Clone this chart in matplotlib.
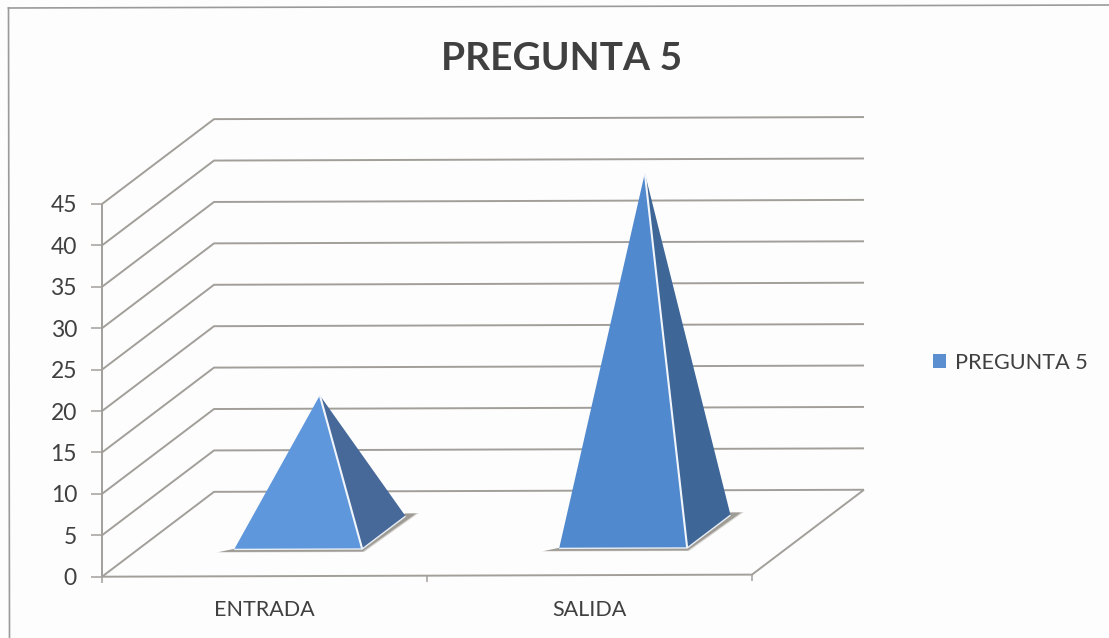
import matplotlib
matplotlib.use("Agg")
import matplotlib.pyplot as plt
from matplotlib.lines import Line2D
from matplotlib.patches import Patch, Polygon

plt.rcParams['font.family'] = ['Lato', 'DejaVu Sans']

title = "PREGUNTA 5"
series_name = "PREGUNTA 5"
categories = ["ENTRADA", "SALIDA"]
values = [16.6, 43.3]
y_ticks = [0, 5, 10, 15, 20, 25, 30, 35, 40, 45]

front_colors = ["#5E97DB", "#5189CE"]
side_colors = ["#47699A", "#3E6697"]
legend_color = "#5B8FD0"
line_color = "#A29F9A"
text_color = "#404040"

W, H = 1109, 638
LEFT, RIGHT, BASE, TOP = 102, 752, 576.7, 204.0
DX = 112 / ((RIGHT - LEFT) / 2)     # depth shift, category units
DY = 84.5 / ((BASE - TOP) / 45)     # depth shift, value units
TILT = 0.0032 * ((RIGHT - LEFT) / 2) / ((BASE - TOP) / 45)  # scan rotation
BAR = 0.394
CENTRE = 0.494
D0, D1 = 0.318, 0.705


def P(cat, val, d=0.0):
    """Oblique projection of (category, value, depth) on the front plane."""
    x = cat + d * DX
    return x, val + d * DY + TILT * x


fig = plt.figure(figsize=(W / 100, H / 100), dpi=100, facecolor="#FDFDFD")
ax = fig.add_axes([LEFT / W, 1 - BASE / H, (RIGHT - LEFT) / W, (BASE - TOP) / H])
ax.set_xlim(0, 2)
ax.set_ylim(0, 45)
ax.patch.set_visible(False)
for s in ax.spines.values():
    s.set_visible(False)


def line(pts, lw=1.4, z=1, col=line_color):
    ax.plot(*zip(*pts), color=col, lw=lw, zorder=z, clip_on=False,
            solid_capstyle="butt")


# walls, floor, gridlines
for v in y_ticks:
    line([P(0, v), P(0, v, 1), P(2, v, 1)])
line([P(0, 0), P(0, 45)])
line([P(0, 0), P(2, 0), P(2, 0, 1)])
for c in (0, 1, 2):
    x, y = P(c, 0)
    line([(x, y), (x, y - 0.75)], lw=1.1)

# pyramids
for i, v in enumerate(values):
    mid = i + CENTRE
    lo, hi = mid - BAR / 2, mid + BAR / 2
    for grow, col, a in ((0.006, "#C4C1BC", 0.7), (0.0, "#9C9993", 0.95)):
        shadow = [P(lo - 0.035 - grow, 0, D0 - 0.03 - grow),
                  P(hi + 0.012 + grow, 0, D0 - 0.03 - grow),
                  P(hi + 0.022 + grow, 0, D1 + 0.03 + grow),
                  P(hi - 0.01, 0, D1 + 0.03 + grow)]
        ax.add_patch(Polygon(shadow, closed=True, fc=col, ec="none", zorder=2,
                             clip_on=False, alpha=a))
    apex = P(mid, v, (D0 + D1) / 2)
    fl, fr, br = P(lo, 0, D0), P(hi, 0, D0), P(hi, 0, D1)
    ax.add_patch(Polygon([fr, br, apex], closed=True, fc=side_colors[i], ec="none",
                         zorder=3, clip_on=False))
    ax.add_patch(Polygon([fl, fr, apex], closed=True, fc=front_colors[i], ec="none",
                         zorder=4, clip_on=False))
    line([fr, apex], lw=1.5, z=5, col="#F2F6FB")
    line([fl, fr, br], lw=1.0, z=5, col="#E8EEF5")

# axes text
ax.set_yticks(y_ticks)
ax.set_yticklabels([str(t) for t in y_ticks])
ax.tick_params(axis="y", length=8, width=1.1, color=line_color, labelcolor=text_color,
               labelsize=16.5, pad=10)
ax.set_xticks([0.5, 1.5])
ax.set_xticklabels(categories)
ax.tick_params(axis="x", length=0, labelcolor=text_color, labelsize=15.5, pad=16.5)

fig.text(562 / W, 1 - 59 / H, title, ha="center", va="center", fontsize=28,
         fontweight="bold", color=text_color)
fig.legend(handles=[Patch(fc=legend_color, ec="none", label=series_name)],
           loc="center left", bbox_to_anchor=(933 / W, 1 - 363 / H), frameon=False,
           fontsize=15.6, labelcolor=text_color, handlelength=0.6, handleheight=0.6,
           handletextpad=0.4, borderpad=0, borderaxespad=0)

# frame of the scanned chart
fig.add_artist(Line2D([8.5 / W, 9.5 / W], [1 - 8 / H, 0], color="#9A9A9A", lw=1.2))
fig.add_artist(Line2D([8.5 / W, 1], [1 - 8 / H, 1 - 5 / H], color="#9A9A9A", lw=1.2))

fig.savefig("out.png", dpi=100, facecolor=fig.get_facecolor())
